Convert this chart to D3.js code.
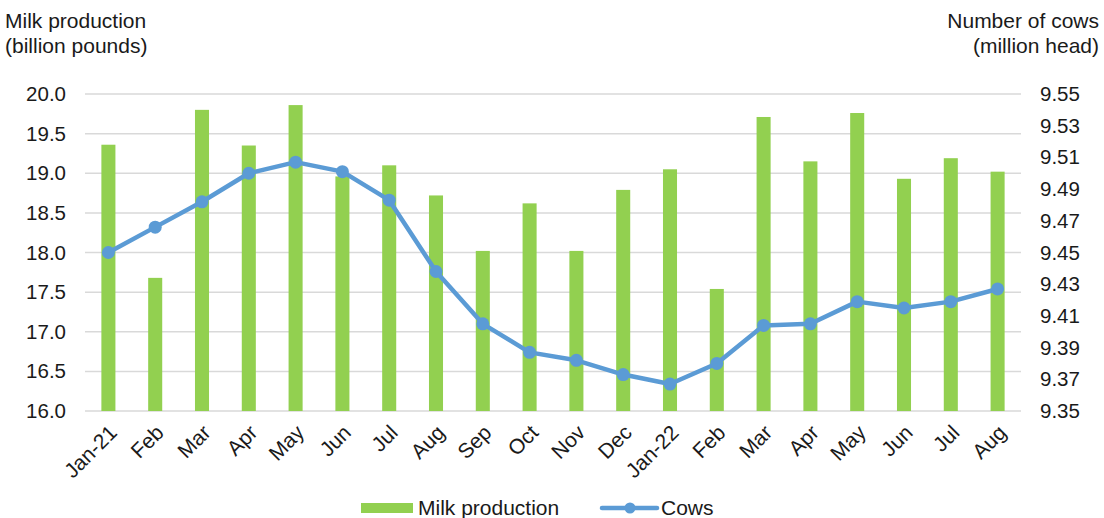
<!DOCTYPE html>
<html><head><meta charset="utf-8">
<script src="https://cdn.jsdelivr.net/npm/d3@7"></script>
<style>
body{margin:0;background:#fff;}
svg text{font-family:"Liberation Sans",Arial,sans-serif;fill:#1a1a1a;}
</style></head>
<body><svg id="c" width="1104" height="518"></svg>
<script>
const categories = ["Jan-21","Feb","Mar","Apr","May","Jun","Jul","Aug","Sep","Oct","Nov","Dec","Jan-22","Feb","Mar","Apr","May","Jun","Jul","Aug"];
const milkProduction = [19.36,17.68,19.80,19.35,19.86,18.96,19.10,18.72,18.02,18.62,18.02,18.79,19.05,17.54,19.71,19.15,19.76,18.93,19.19,19.02];
const cows = [9.450,9.466,9.482,9.500,9.507,9.501,9.483,9.438,9.405,9.387,9.382,9.373,9.367,9.380,9.404,9.405,9.419,9.415,9.419,9.427];
const leftTicks = [16.0,16.5,17.0,17.5,18.0,18.5,19.0,19.5,20.0];
const rightTicks = [9.35,9.37,9.39,9.41,9.43,9.45,9.47,9.49,9.51,9.53,9.55];

const svg = d3.select("#c");
const L = 85, R = 1021, T = 94, B = 411;
const idx = categories.map((d,i)=>i);
const x = d3.scaleBand().domain(idx).range([L,R]).padding(0);
const yL = d3.scaleLinear().domain([16,20]).range([B,T]);
const yR = d3.scaleLinear().domain([9.35,9.55]).range([B,T]);
const cx = i => x(i) + x.bandwidth()/2;
const FS = 21;

// gridlines
svg.append("g").selectAll("line").data(leftTicks).join("line")
  .attr("x1",L).attr("x2",R).attr("y1",d=>yL(d)).attr("y2",d=>yL(d))
  .attr("stroke","#d9d9d9").attr("stroke-width",1.5);

// left axis
const gl = svg.append("g").attr("transform",`translate(${L},0)`)
  .call(d3.axisLeft(yL).tickValues(leftTicks).tickFormat(d3.format(".1f")).tickSize(0).tickPadding(19));
gl.select(".domain").remove();
gl.selectAll("text").style("font-size","20.5px").style("font-family","Liberation Sans, Arial");

// right axis
const gr = svg.append("g").attr("transform",`translate(${R},0)`)
  .call(d3.axisRight(yR).tickValues(rightTicks).tickFormat(d3.format(".2f")).tickSize(0).tickPadding(19));
gr.select(".domain").remove();
gr.selectAll("text").style("font-size","20.5px").style("font-family","Liberation Sans, Arial");

// bars
const bw = x.bandwidth()*0.3;
svg.append("g").selectAll("rect").data(milkProduction).join("rect")
  .attr("x",(d,i)=>cx(i)-bw/2).attr("width",bw)
  .attr("y",d=>yL(d)).attr("height",d=>B-yL(d))
  .attr("fill","#92d050");

// x labels
svg.append("g").selectAll("text").data(categories).join("text")
  .attr("transform",(d,i)=>`translate(${cx(i)+6},${B+19}) rotate(-45)`)
  .attr("text-anchor","end").attr("dominant-baseline","middle")
  .style("font-size",FS+"px").text(d=>d);

// line
const line = d3.line().x((d,i)=>cx(i)).y(d=>yR(d));
svg.append("path").datum(cows).attr("d",line).attr("fill","none")
  .attr("stroke","#5b9bd5").attr("stroke-width",4.5).attr("stroke-linejoin","round");
svg.append("g").selectAll("circle").data(cows).join("circle")
  .attr("cx",(d,i)=>cx(i)).attr("cy",d=>yR(d)).attr("r",6.5).attr("fill","#5b9bd5");

// titles
svg.append("text").attr("x",5).attr("y",28).style("font-size",FS+"px").text("Milk production");
svg.append("text").attr("x",5).attr("y",53).style("font-size",FS+"px").text("(billion pounds)");
svg.append("text").attr("x",1099).attr("y",28).attr("text-anchor","end").style("font-size",FS+"px").text("Number of cows");
svg.append("text").attr("x",1099).attr("y",53).attr("text-anchor","end").style("font-size",FS+"px").text("(million head)");

// legend
svg.append("rect").attr("x",361).attr("y",503).attr("width",52).attr("height",10).attr("fill","#92d050");
svg.append("text").attr("x",418).attr("y",515).style("font-size",FS+"px").text("Milk production");
svg.append("line").attr("x1",602).attr("x2",657).attr("y1",508).attr("y2",508).attr("stroke","#5b9bd5").attr("stroke-width",4.5).attr("stroke-linecap","round");
svg.append("circle").attr("cx",630).attr("cy",508).attr("r",5.5).attr("fill","#5b9bd5");
svg.append("text").attr("x",661).attr("y",515).style("font-size",FS+"px").text("Cows");
</script></body></html>
